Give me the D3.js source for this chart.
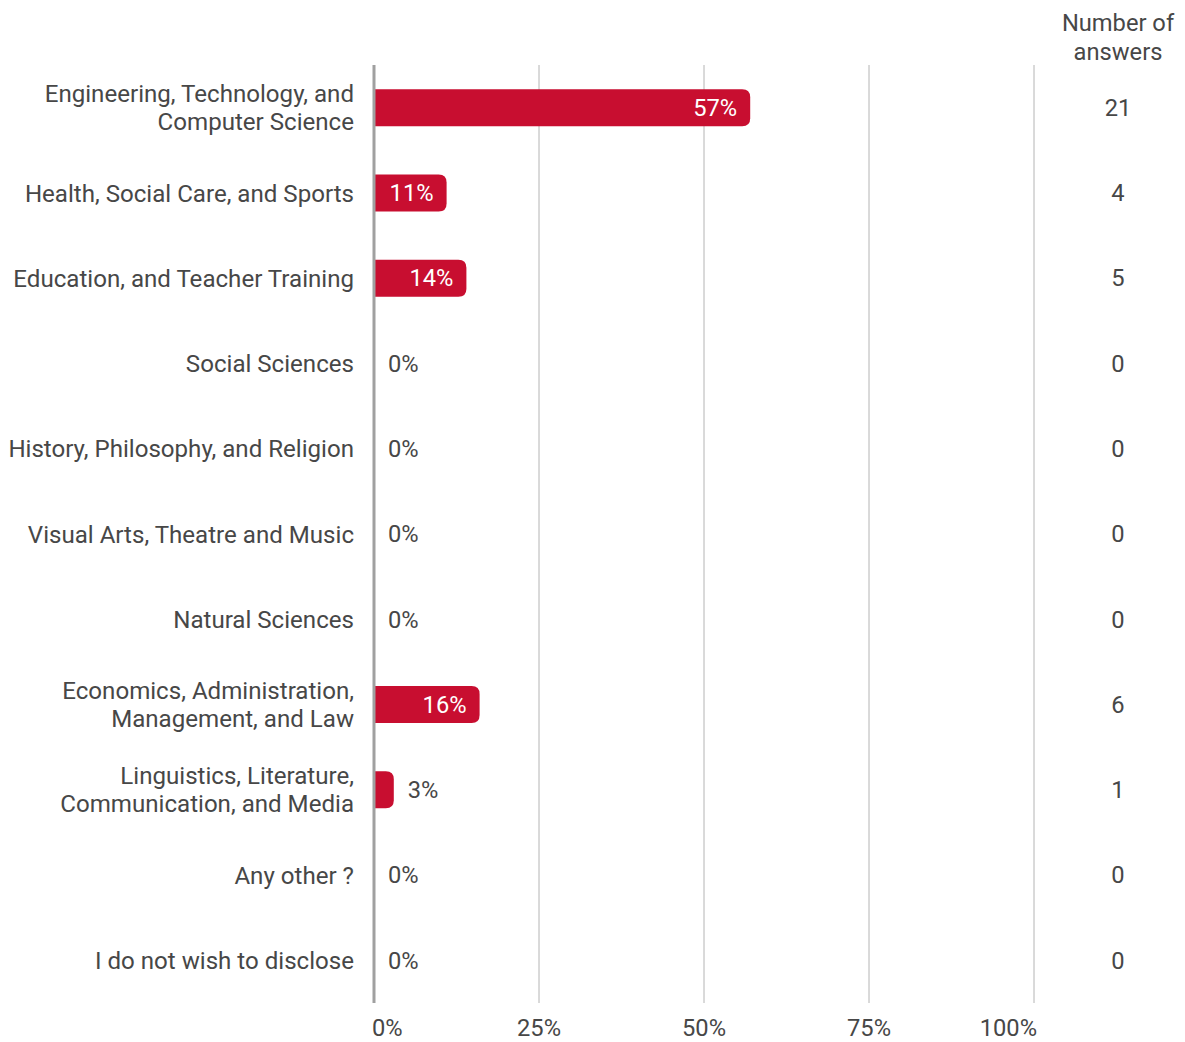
<!DOCTYPE html>
<html>
<head>
<meta charset="utf-8">
<script src="https://cdn.jsdelivr.net/npm/d3@7"></script>
<style>
  html, body { margin: 0; padding: 0; background: #fff; }
  svg { display: block; font-family: Roboto, "Noto Sans", sans-serif; }
</style>
</head>
<body>
<svg id="chart" width="1185" height="1042"></svg>
<script>
// Field of study breakdown
const categories = [
  ["Engineering, Technology, and", "Computer Science"],
  ["Health, Social Care, and Sports"],
  ["Education, and Teacher Training"],
  ["Social Sciences"],
  ["History, Philosophy, and Religion"],
  ["Visual Arts, Theatre and Music"],
  ["Natural Sciences"],
  ["Economics, Administration,", "Management, and Law"],
  ["Linguistics, Literature,", "Communication, and Media"],
  ["Any other ?"],
  ["I do not wish to disclose"]
];
const percents = [57, 11, 14, 0, 0, 0, 0, 16, 3, 0, 0];
const answers = [21, 4, 5, 0, 0, 0, 0, 6, 1, 0, 0];
const tickValues = [0, 25, 50, 75, 100];
const countHeader = ["Number of", "answers"];

const svg = d3.select("#chart");
const textColor = "#474747";
const barColor = "#c80e30";
const fontSize = 23.7;
const catFontSize = 24.1;

const x = d3.scaleLinear().domain([0, 100]).range([374, 1034]);
const y = d3.scaleBand().domain(d3.range(categories.length)).range([65, 1003]).paddingInner(0);
const barH = 37;

// vertical gridlines
svg.append("g").selectAll("line")
  .data(tickValues.filter(d => d > 0))
  .join("line")
  .attr("x1", d => x(d)).attr("x2", d => x(d))
  .attr("y1", y.range()[0]).attr("y2", y.range()[1])
  .attr("stroke", "#b4b4b4").attr("stroke-width", 1);

// bars: square on the left, rounded on the right
const r = 8;
function barPath(d) {
  const x0 = x(0), x1 = x(d.v), h = barH;
  const yc = y(d.i) + y.bandwidth() / 2, y0 = yc - h / 2;
  const rr = Math.min(r, (x1 - x0), h / 2);
  return `M${x0},${y0}H${x1 - rr}Q${x1},${y0} ${x1},${y0 + rr}V${y0 + h - rr}Q${x1},${y0 + h} ${x1 - rr},${y0 + h}H${x0}Z`;
}
const rows = percents.map((v, i) => ({ v, i }));
svg.append("g").selectAll("path")
  .data(rows.filter(d => d.v > 0))
  .join("path")
  .attr("d", barPath)
  .attr("fill", barColor);

// axis line at zero
svg.append("line")
  .attr("x1", x(0)).attr("x2", x(0))
  .attr("y1", y.range()[0]).attr("y2", y.range()[1])
  .attr("stroke", "#a0a0a0").attr("stroke-width", 3);

// value labels
svg.append("g").selectAll("text")
  .data(rows)
  .join("text")
  .attr("y", d => y(d.i) + y.bandwidth() / 2)
  .attr("dy", "0.35em")
  .attr("font-size", fontSize)
  .each(function(d) {
    const inside = x(d.v) - x(0) > 60;
    d3.select(this)
      .attr("x", inside ? x(d.v) - 13 : x(d.v) + 14)
      .attr("text-anchor", inside ? "end" : "start")
      .attr("fill", inside ? "#fff" : textColor);
  })
  .text(d => d.v + "%");

// category labels
const lineH = 28;
const catG = svg.append("g").selectAll("text")
  .data(categories)
  .join("text")
  .attr("text-anchor", "end")
  .attr("font-size", catFontSize)
  .attr("fill", textColor)
  .attr("y", (d, i) => y(i) + y.bandwidth() / 2 - (d.length - 1) * lineH / 2 + catFontSize * 0.36);
catG.selectAll("tspan")
  .data(d => d)
  .join("tspan")
  .attr("x", 354)
  .attr("dy", (d, j) => j === 0 ? 0 : lineH)
  .text(d => d);

// x tick labels
svg.append("g").selectAll("text")
  .data(tickValues)
  .join("text")
  .attr("x", d => x(d))
  .attr("y", 1028)
  .attr("dy", "0.35em")
  .attr("font-size", fontSize)
  .attr("fill", textColor)
  .attr("text-anchor", (d, i) => i === 0 ? "start" : (i === tickValues.length - 1 ? "end" : "middle"))
  .attr("dx", (d, i) => i === 0 ? -2 : (i === tickValues.length - 1 ? 3 : 0))
  .text(d => d + "%");

// answer counts column
const countX = 1118;
svg.append("text")
  .attr("text-anchor", "middle")
  .attr("font-size", fontSize).attr("fill", textColor)
  .attr("y", 23 + fontSize * 0.35)
  .selectAll("tspan").data(countHeader).join("tspan")
  .attr("x", countX).attr("dy", (d, j) => j === 0 ? 0 : 29)
  .text(d => d);

svg.append("g").selectAll("text")
  .data(answers)
  .join("text")
  .attr("x", countX)
  .attr("y", (d, i) => y(i) + y.bandwidth() / 2)
  .attr("dy", "0.35em")
  .attr("text-anchor", "middle")
  .attr("font-size", fontSize)
  .attr("fill", textColor)
  .text(d => d);
</script>
</body>
</html>
